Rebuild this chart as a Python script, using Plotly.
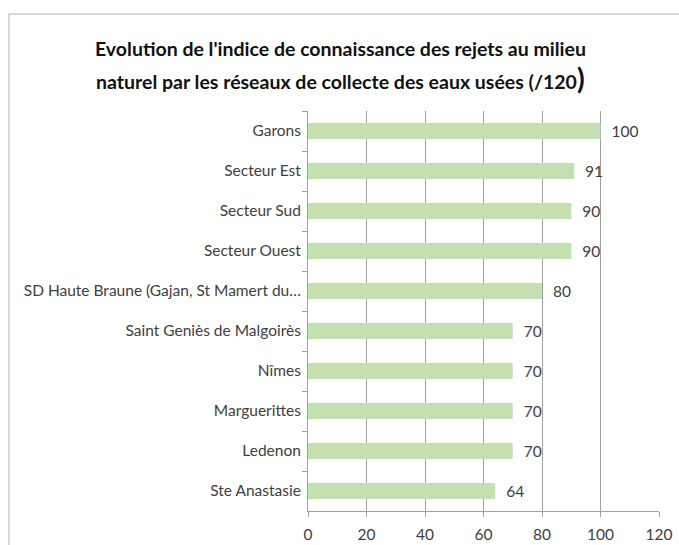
import plotly.graph_objects as go

categories = [
    "Garons",
    "Secteur Est",
    "Secteur Sud",
    "Secteur Ouest",
    "SD Haute Braune (Gajan, St Mamert du…",
    "Saint Geniès de Malgoirès",
    "Nîmes",
    "Marguerittes",
    "Ledenon",
    "Ste Anastasie",
]
values = [100, 91, 90, 90, 80, 70, 70, 70, 70, 64]
x_ticks = [0, 20, 40, 60, 80, 100, 120]

title_line1 = "Evolution de l'indice de connaissance des rejets au milieu"
title_line2 = "naturel par les réseaux de collecte des eaux usées (/120<span style='font-size:28px'>)</span>"

FONT = "Lato"
TXT = "#404040"
FS = 15.5

fig = go.Figure(go.Bar(
    x=values,
    y=categories,
    orientation="h",
    width=0.4,
    marker=dict(color="#c4dfb2", line=dict(width=0)),
    text=values,
    texttemplate="  %{x}",
    textposition="outside",
    constraintext="none",
    cliponaxis=False,
    textfont=dict(family=FONT, size=FS, color=TXT),
))

title_font = dict(family=FONT, size=19.5, color="#111111", weight="bold")

fig.update_layout(
    width=679, height=545,
    margin=dict(l=308, r=20, t=111, b=34, autoexpand=False),
    paper_bgcolor="white",
    plot_bgcolor="white",
    showlegend=False,
    font=dict(family=FONT, color=TXT),
    xaxis=dict(
        range=[0, 120],
        tickvals=x_ticks,
        showgrid=True, gridcolor="#a0a0a0", gridwidth=1,
        showline=True, linecolor="#a0a0a0",
        ticks="outside", ticklen=5, tickcolor="#a0a0a0",
        ticklabelstandoff=4,
        tickfont=dict(family=FONT, size=FS, color=TXT),
        zeroline=False,
        automargin=False,
        fixedrange=True,
    ),
    yaxis=dict(
        autorange="reversed",
        showline=True, linecolor="#a0a0a0",
        ticks="outside", ticklen=5, tickcolor="#a0a0a0",
        tickson="boundaries",
        ticklabelstandoff=3,
        tickfont=dict(family=FONT, size=FS, color=TXT),
        showgrid=False,
        automargin=False,
        fixedrange=True,
    ),
    annotations=[
        dict(text=title_line1, xref="paper", yref="paper", x=0.0912, y=1.1575,
             xanchor="center", yanchor="middle", showarrow=False, font=title_font),
        dict(text=title_line2, xref="paper", yref="paper", x=0.0912, y=1.083,
             xanchor="center", yanchor="middle", showarrow=False, font=title_font),
    ],
    shapes=[dict(
        type="rect", xref="paper", yref="paper",
        x0=-0.852, x1=1.2, y0=-0.2, y1=1.2425,
        line=dict(color="#d9d9d9", width=2), fillcolor="rgba(0,0,0,0)",
        layer="below",
    )],
)

fig.write_html("out.html")
